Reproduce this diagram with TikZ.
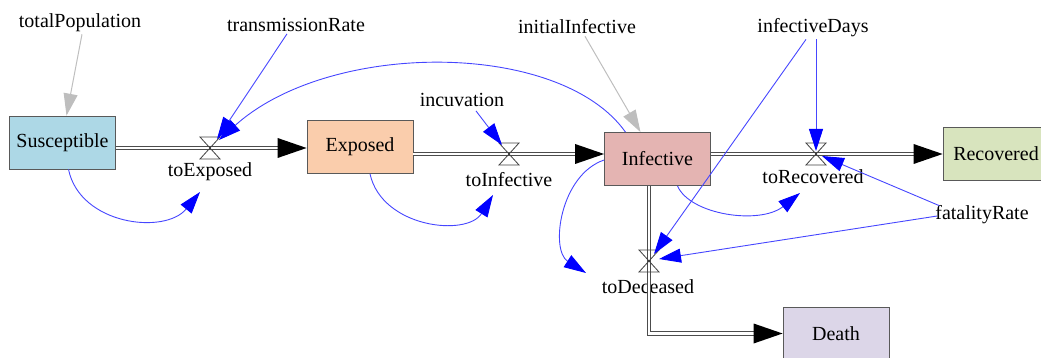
\documentclass[tikz,border=0pt]{standalone}
\usepackage{fontspec}
\setmainfont{Liberation Serif}
\usetikzlibrary{arrows.meta,calc}
\definecolor{sus}{RGB}{173,216,230}
\definecolor{exps}{RGB}{250,205,172}
\definecolor{infs}{RGB}{228,180,178}
\definecolor{recs}{RGB}{216,228,190}
\definecolor{deas}{RGB}{220,214,232}
\definecolor{linkblue}{RGB}{70,70,255}
\definecolor{linkgray}{RGB}{190,190,190}
\begin{document}
\begin{tikzpicture}[x=1pt,y=-1pt,
  every node/.style={font=\fontsize{20}{22}\selectfont, inner sep=2pt},
  stock/.style={draw=black!65, line width=0.8pt, minimum width=106pt, minimum height=53pt, inner sep=0pt},
  pipe/.style={draw=black!70, line width=1pt, double=white, double distance=2.6pt},
  valvesym/.style={draw=black!75, line width=0.8pt},
  link/.style={draw=linkblue, line width=0.9pt, -{Triangle[length=22pt,width=14pt,color=blue]}},
  greylink/.style={draw=linkgray, line width=1pt, -{Triangle[length=22pt,width=14pt,color=linkgray]}},
]
\useasboundingbox (0,0) rectangle (1041,358);
\clip (0,0) rectangle (1041,358);

% stocks
\node[stock, fill=sus] (S) at (62.5,142.5) {Susceptible};
\node[stock, fill=exps] (E) at (360,147) {Exposed};
\node[stock, fill=infs] (I) at (657.5,159) {Infective};
\node[stock, fill=recs] (R) at (996,153.5) {Recovered};
\node[stock, fill=deas] (D) at (836,333.5) {Death};

% valves
\coordinate (vE) at (210,148);
\coordinate (vI) at (509,154);
\coordinate (vR) at (816,154);
\coordinate (vD) at (649,261);

% labels
\node (lE) at (210,172) {toExposed};
\node (lI) at (509,180) {toInfective};
\node (lR) at (813,177) {toRecovered};
\node (lD) at (648,287) {toDeceased};
\node (tp) at (80,23) {totalPopulation};
\node (tr) at (296,25) {transmissionRate};
\node (ii) at (577,27) {initialInfective};
\node (inc) at (462,100) {incuvation};
\node (id) at (813,28) {infectiveDays};
\node (fr) at (982,215) {fatalityRate};

% flows
\draw[pipe] (S.east |- vE) -- (vE) -- ($(E.west |- vE)+(-27,0)$);
\fill (E.west |- vE) -- ++(-29,-10) -- ++(0,20) -- cycle;
\draw[pipe] (E.east |- vI) -- (vI) -- ($(I.west |- vI)+(-27,0)$);
\fill (I.west |- vI) -- ++(-29,-10) -- ++(0,20) -- cycle;
\draw[pipe] (I.east |- vR) -- (vR) -- ($(R.west |- vR)+(-27,0)$);
\fill (R.west |- vR) -- ++(-29,-10) -- ++(0,20) -- cycle;
\draw[pipe] (I.south -| vD) -- (vD) -- (vD |- D.west) -- ($(D.west)+(-27,0)$);
\fill (D.west) -- ++(-29,-10) -- ++(0,20) -- cycle;

\foreach \v in {vE,vI,vR,vD}
  \draw[valvesym] (\v) ++(-10,-11) -- ++(20,0) -- ++(-20,22) -- ++(20,0) -- cycle;

% information links
\draw[greylink] ($(tp.south)+(2,0)$) -- ($(S.north)+(4,0)$);
\draw[greylink] ($(ii.south)+(8,0)$) -- ($(I.north)+(-17,0)$);
\draw[link] ($(tr.south)+(-9,0)$) -- ($(vE)+(7,-9)$);
\draw[link] ($(I.north)+(-32,0)$) .. controls (560,40) and (330,40) .. ($(vE)+(9,-8)$);
\draw[link] ($(S.south)+(6,0)$) .. controls (80,225) and (165,235) .. ($(vE)+(-10,44)$);
\draw[link] ($(E.south)+(10,0)$) .. controls (382,228) and (467,237) .. ($(vI)+(-16,41)$);
\draw[link] ($(inc.south)+(14,2)$) -- ($(vI)+(-7,-9)$);
\draw[link] ($(id.south)+(3,0)$) -- ($(vR)+(0,-3)$);
\draw[link] ($(id.south)+(-7,0)$) -- ($(vD)+(5,-7)$);
\draw[link] ($(fr.north west)+(6,2)$) -- ($(vR)+(6,2)$);
\draw[link] ($(fr.west)+(4,1)$) -- ($(vD)+(10,-2)$);
\draw[link] ($(I.south)+(20,0)$) .. controls (690,215) and (760,225) .. ($(vR)+(-16,39)$);
\draw[link] ($(I.west)+(0,1)$) .. controls (560,175) and (550,250) .. ($(vD)+(-63,12)$);
\end{tikzpicture}
\end{document}
